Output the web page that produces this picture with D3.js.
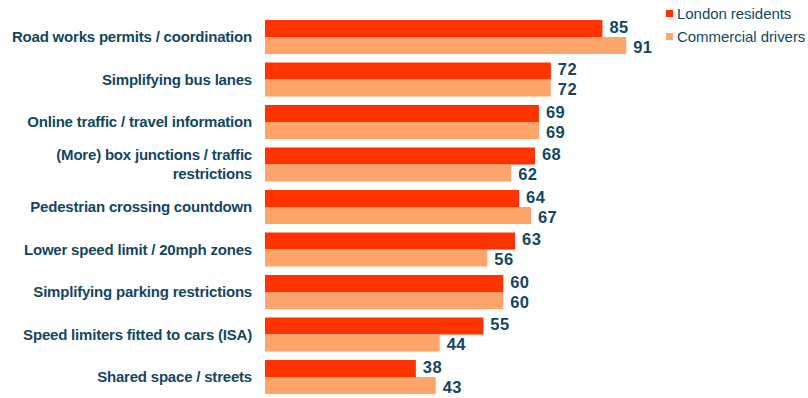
<!DOCTYPE html>
<html>
<head>
<meta charset="utf-8">
<script src="https://cdn.jsdelivr.net/npm/d3@7"></script>
<style>
  html, body { margin: 0; padding: 0; background: #ffffff; }
  svg { display: block; }
</style>
</head>
<body>
<svg id="chart" width="808" height="398"></svg>
<script>
// Support for measures, % by group
const categories = [
  "Road works permits / coordination",
  "Simplifying bus lanes",
  "Online traffic / travel information",
  "(More) box junctions / traffic restrictions",
  "Pedestrian crossing countdown",
  "Lower speed limit / 20mph zones",
  "Simplifying parking restrictions",
  "Speed limiters fitted to cars (ISA)",
  "Shared space / streets"
];
const categoryLines = [
  ["Road works permits / coordination"],
  ["Simplifying bus lanes"],
  ["Online traffic / travel information"],
  ["(More) box junctions / traffic", "restrictions"],
  ["Pedestrian crossing countdown"],
  ["Lower speed limit / 20mph zones"],
  ["Simplifying parking restrictions"],
  ["Speed limiters fitted to cars (ISA)"],
  ["Shared space / streets"]
];
const seriesNames = ["London residents", "Commercial drivers"];
const londonResidents = [85, 72, 69, 68, 64, 63, 60, 55, 38];
const commercialDrivers = [91, 72, 69, 62, 67, 56, 60, 44, 43];
const seriesColors = ["#ff3300", "#ffa56b"];
const textColor = "#134760";

const svg = d3.select("#chart");

const x = d3.scaleLinear().domain([0, 100]).range([265, 662]);
const y = d3.scaleBand().domain(categories).range([15.75, 398.25])
  .paddingInner(0.2).paddingOuter(0.1);
const ySub = d3.scaleBand().domain(seriesNames).range([0, y.bandwidth()]);

const rows = categories.map((c, i) => ({
  category: c,
  lines: categoryLines[i],
  values: [
    { series: seriesNames[0], value: londonResidents[i] },
    { series: seriesNames[1], value: commercialDrivers[i] }
  ]
}));
const color = d3.scaleOrdinal().domain(seriesNames).range(seriesColors);

const groups = svg.append("g").selectAll("g.row")
  .data(rows).join("g")
  .attr("class", "row")
  .attr("transform", d => `translate(0,${y(d.category)})`);

groups.selectAll("rect")
  .data(d => d.values).join("rect")
  .attr("x", x(0))
  .attr("y", d => ySub(d.series))
  .attr("width", d => x(d.value) - x(0))
  .attr("height", ySub.bandwidth())
  .attr("fill", d => color(d.series));

// Value labels: the pair is spread slightly apart so stacked numbers stay clear
const labelShift = { [seriesNames[0]]: -1.5, [seriesNames[1]]: 1.5 };
groups.selectAll("text.val")
  .data(d => d.values).join("text")
  .attr("class", "val")
  .attr("x", d => x(d.value) + 7)
  .attr("y", d => ySub(d.series) + ySub.bandwidth() / 2 + labelShift[d.series])
  .attr("dy", "0.36em")
  .attr("fill", textColor)
  .style("font-family", "'Liberation Sans', Arial, sans-serif")
  .style("font-weight", "bold")
  .style("font-size", "16.5px")
  .style("letter-spacing", "0.4px")
  .text(d => d.value);

// Category labels, right-aligned beside the bars
const lineGap = 19;
groups.append("text")
  .attr("class", "cat")
  .attr("text-anchor", "end")
  .attr("fill", textColor)
  .style("font-family", "'Liberation Sans', Arial, sans-serif")
  .style("font-weight", "bold")
  .style("font-size", "15px")
  .style("letter-spacing", "-0.2px")
  .each(function (d) {
    const t = d3.select(this);
    const n = d.lines.length;
    d.lines.forEach((line, k) => {
      t.append("tspan")
        .attr("x", 252)
        .attr("y", y.bandwidth() / 2 + (k - (n - 1) / 2) * lineGap)
        .attr("dy", "0.36em")
        .text(line);
    });
  });

// Legend
const legend = svg.append("g").selectAll("g.legend")
  .data(seriesNames).join("g")
  .attr("class", "legend")
  .attr("transform", (d, i) => `translate(666,${10 + i * 23})`);
legend.append("rect")
  .attr("width", 7).attr("height", 7)
  .attr("fill", d => color(d));
legend.append("text")
  .attr("x", 11).attr("y", 3.5).attr("dy", "0.36em")
  .attr("fill", textColor)
  .style("font-family", "'Liberation Sans', Arial, sans-serif")
  .style("font-size", "15px")
  .style("letter-spacing", "-0.05px")
  .text(d => d);
</script>
</body>
</html>
